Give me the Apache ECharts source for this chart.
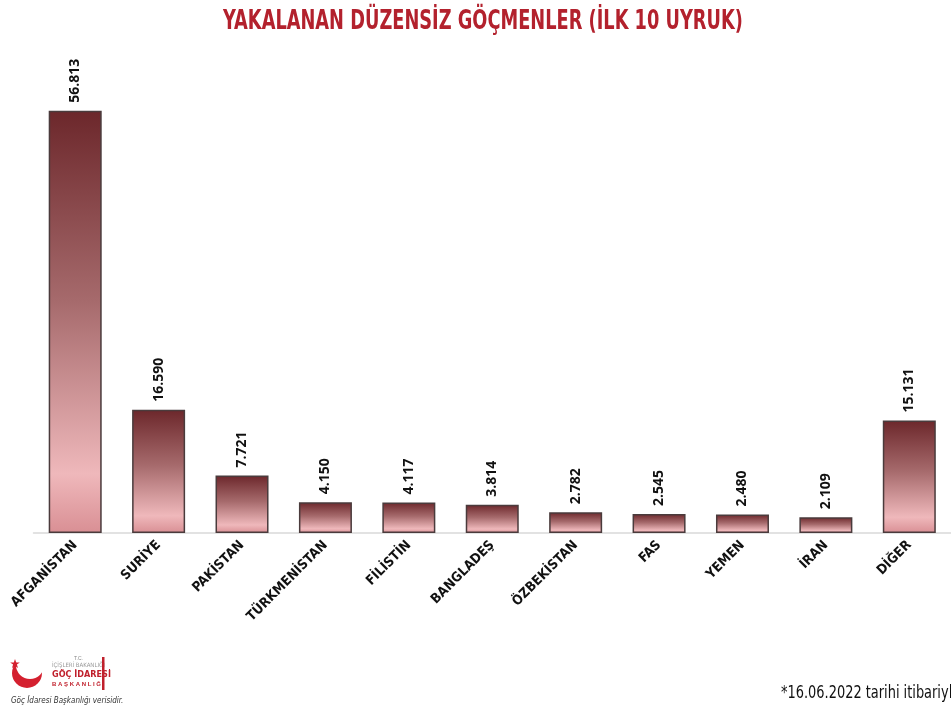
<!DOCTYPE html>
<html>
<head>
<meta charset="utf-8">
<title>Yakalanan Düzensiz Göçmenler</title>
<script src="https://cdn.jsdelivr.net/npm/echarts@6/dist/echarts.min.js"></script>
<style>
html, body { margin: 0; padding: 0; background: #fff; }
#chart { width: 951px; height: 712px; }
</style>
</head>
<body>
<div id="chart"></div>
<script>
// uyruklar ve yakalanan kisi sayilari (16.06.2022)
var uyruklar = ["AFGANİSTAN", "SURİYE", "PAKİSTAN", "TÜRKMENİSTAN", "FİLİSTİN", "BANGLADEŞ", "ÖZBEKİSTAN", "FAS", "YEMEN", "İRAN", "DİĞER"];
var sayilar = [56813, 16590, 7721, 4150, 4117, 3814, 2782, 2545, 2480, 2109, 15131];
var baslik = "YAKALANAN DÜZENSİZ GÖÇMENLER (İLK 10 UYRUK)";
var dipnot = "*16.06.2022 tarihi itibariyle";

function noktali(v) {
    return String(v).replace(/\B(?=(\d{3})+(?!\d))/g, ".");
}

var dar = "'DejaVu Sans Condensed', 'Liberation Sans Narrow', sans-serif";

var e = echarts.init(document.getElementById("chart"));
var a = {
    backgroundColor: "#fff",
    animation: false,
    grid: {
        left: 33.5,
        width: 933.5,
        top: 87,
        bottom: 179,
        containLabel: false
    },
    xAxis: {
        type: "category",
        data: uyruklar,
        axisLine: { lineStyle: { color: "#d9d9d9", width: 1.5 } },
        axisTick: { show: false },
        axisLabel: {
            interval: 0,
            rotate: 45,
            margin: 10,
            color: "#111",
            fontFamily: dar,
            fontWeight: "bold",
            fontSize: 13.5
        }
    },
    yAxis: {
        type: "value",
        min: 0,
        max: 60000,
        show: false,
        splitLine: { show: false }
    },
    series: [{
        type: "bar",
        data: sayilar,
        barWidth: 53,
        itemStyle: {
            borderColor: "#4a3b3c",
            borderWidth: 1.5,
            color: new echarts.graphic.LinearGradient(0, 0, 0, 1, [
                { offset: 0, color: "#6c272b" },
                { offset: 0.45, color: "#a66a6c" },
                { offset: 0.86, color: "#efb8bb" },
                { offset: 1, color: "#d98f94" }
            ])
        },
        label: {
            show: true,
            position: "top",
            rotate: 90,
            align: "left",
            verticalAlign: "middle",
            distance: 8,
            color: "#111",
            fontFamily: "'Open Sans', sans-serif",
            fontWeight: "bold",
            fontSize: 14,
            formatter: function(p) { return noktali(p.value); }
        }
    }],
    graphic: [
        // baslik (dar yazi icin yatayda sikistirildi)
        {
            type: "text",
            x: 483,
            y: 22,
            scaleX: 0.76,
            style: {
                text: baslik,
                fill: "#b3212d",
                font: "bold 26px " + dar,
                align: "center",
                verticalAlign: "middle"
            }
        },
        // dipnot
        {
            type: "text",
            x: 781,
            y: 693,
            scaleX: 0.8,
            style: {
                text: dipnot,
                fill: "#111",
                font: "18px " + dar,
                verticalAlign: "middle"
            }
        },
        // logo: hilal ve yildiz
        {
            type: "circle",
            shape: { cx: 27, cy: 673, r: 15 },
            style: { fill: "#d4202f" }
        },
        {
            type: "circle",
            shape: { cx: 30, cy: 665, r: 14 },
            style: { fill: "#fff" }
        },
        {
            type: "polygon",
            shape: {
                points: [[15, 659], [16.2, 662.5], [19.8, 662.5], [16.9, 664.6], [18, 668], [15, 665.9], [12, 668], [13.1, 664.6], [10.2, 662.5], [13.8, 662.5]]
            },
            style: { fill: "#d4202f" }
        },
        {
            type: "text", left: 74, top: 656,
            style: { text: "T.C.", fill: "#888", font: "5px sans-serif" }
        },
        {
            type: "text", left: 52, top: 662,
            style: { text: "İÇİŞLERİ BAKANLIĞI", fill: "#999", font: "6px " + dar }
        },
        {
            type: "text", left: 52, top: 670,
            style: { text: "GÖÇ İDARESİ", fill: "#c0202c", font: "bold 9px " + dar }
        },
        {
            type: "text", left: 52, top: 681,
            style: { text: "B A Ş K A N L I Ğ I", fill: "#c0202c", font: "bold 6px sans-serif" }
        },
        {
            type: "rect",
            shape: { x: 102, y: 657, width: 2.5, height: 33 },
            style: { fill: "#c0202c" }
        },
        {
            type: "text", left: 11, top: 697,
            style: { text: "Göç İdaresi Başkanlığı verisidir.", fill: "#333", font: "italic 8px " + dar }
        }
    ]
};
e.setOption(a);
window.addEventListener("resize", function() { e.resize(); });
</script>
</body>
</html>
